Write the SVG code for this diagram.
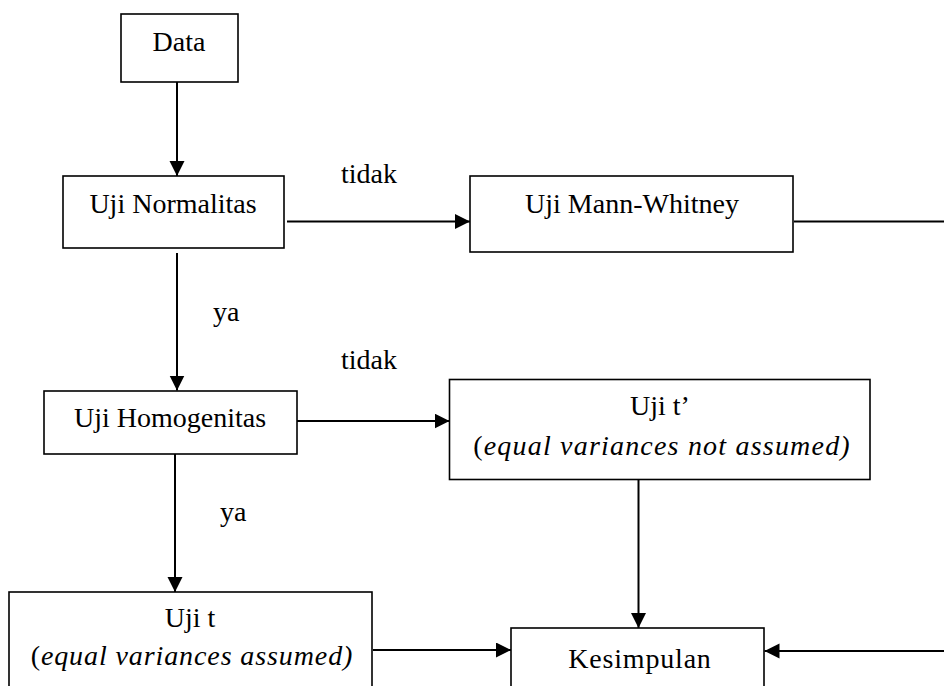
<svg xmlns="http://www.w3.org/2000/svg" width="944" height="686" viewBox="0 0 944 686" font-family="Liberation Serif" font-size="28">
<defs>
<marker id="ah" markerUnits="userSpaceOnUse" markerWidth="16" markerHeight="16" refX="15" refY="7.5" orient="auto">
<path d="M0,0 L15,7.5 L0,15 Z" fill="#000"/>
</marker>
</defs>
<rect width="944" height="686" fill="#fff"/>
<g id="connectors" stroke="#000" stroke-width="2" fill="none">
<line x1="177" y1="82" x2="177" y2="176" marker-end="url(#ah)"/>
<line x1="287" y1="221.5" x2="470" y2="221.5" marker-end="url(#ah)"/>
<line x1="794" y1="221.5" x2="944" y2="221.5"/>
<line x1="177" y1="253" x2="177" y2="390.5" marker-end="url(#ah)"/>
<line x1="297" y1="421" x2="449.5" y2="421" marker-end="url(#ah)"/>
<line x1="175" y1="454" x2="175" y2="592" marker-end="url(#ah)"/>
<line x1="638.5" y1="479.5" x2="638.5" y2="628" marker-end="url(#ah)"/>
<line x1="373" y1="650" x2="511" y2="650" marker-end="url(#ah)"/>
<line x1="944" y1="651" x2="764.5" y2="651" marker-end="url(#ah)"/>
</g>
<g id="labels" fill="#000">
<text x="341" y="183">tidak</text>
<text x="213" y="321">ya</text>
<text x="341" y="369">tidak</text>
<text x="220" y="521">ya</text>
</g>
<g id="data">
<rect x="121" y="14" width="117" height="68" fill="#fff" stroke="#000" stroke-width="1.6"/>
<text x="179" y="51" text-anchor="middle">Data</text>
</g>
<g id="uji-normalitas">
<rect x="63" y="176" width="221" height="72" fill="#fff" stroke="#000" stroke-width="1.6"/>
<text x="173" y="213" text-anchor="middle">Uji Normalitas</text>
</g>
<g id="uji-mann-whitney">
<rect x="470" y="176" width="323" height="76" fill="#fff" stroke="#000" stroke-width="1.6"/>
<text x="632" y="213" text-anchor="middle">Uji Mann-Whitney</text>
</g>
<g id="uji-homogenitas">
<rect x="44" y="391" width="253" height="63" fill="#fff" stroke="#000" stroke-width="1.6"/>
<text x="170" y="427" text-anchor="middle">Uji Homogenitas</text>
</g>
<g id="uji-t-aksen">
<rect x="449.5" y="379.5" width="420.5" height="100" fill="#fff" stroke="#000" stroke-width="1.6"/>
<text x="660" y="415" text-anchor="middle">Uji t&#8217;</text>
<text x="662" y="455" text-anchor="middle" letter-spacing="1.2">(<tspan font-style="italic">equal variances not assumed)</tspan></text>
</g>
<g id="uji-t">
<rect x="9" y="592" width="363" height="110" fill="#fff" stroke="#000" stroke-width="1.6"/>
<text x="190" y="627" text-anchor="middle">Uji t</text>
<text x="192" y="665" text-anchor="middle" letter-spacing="0.9">(<tspan font-style="italic">equal variances assumed)</tspan></text>
</g>
<g id="kesimpulan">
<rect x="511" y="628" width="253" height="80" fill="#fff" stroke="#000" stroke-width="1.6"/>
<text x="640" y="668" text-anchor="middle" letter-spacing="0.8">Kesimpulan</text>
</g>
</svg>
